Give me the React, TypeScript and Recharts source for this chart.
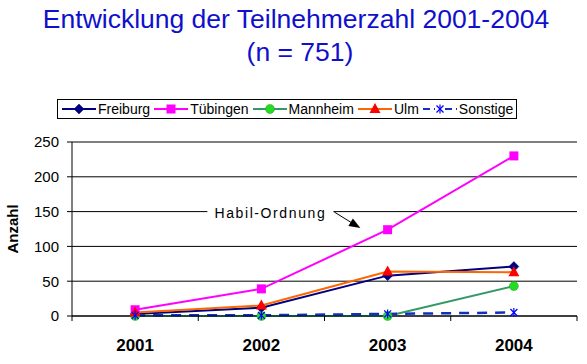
import React from 'react';
import {
  LineChart, Line, XAxis, YAxis, CartesianGrid, Legend, ReferenceLine, ReferenceDot,
} from 'recharts';

const YEARS = ['2001', '2002', '2003', '2004'];
const FREIBURG = [3, 12, 58, 71];
const TUEBINGEN = [9, 39, 124, 230];
const MANNHEIM = [0, 0, 0, 43];
const ULM = [5, 15, 64, 63];
const SONSTIGE = [1, 1, 3, 5];
const Y_TICKS = [0, 50, 100, 150, 200, 250];
const TITLE_1 = 'Entwicklung der Teilnehmerzahl 2001-2004';
const TITLE_2 = '(n = 751)';
const ANNOTATION = 'Habil-Ordnung';

const data = YEARS.map((year, i) => ({
  year,
  Freiburg: FREIBURG[i],
  'Tübingen': TUEBINGEN[i],
  Mannheim: MANNHEIM[i],
  Ulm: ULM[i],
  Sonstige: SONSTIGE[i],
}));

type MarkerType = 'diamond' | 'square' | 'circle' | 'triangle' | 'asterisk';
const SERIES: { key: string; color: string; marker: MarkerType; markerColor: string; dash?: string; width: number }[] = [
  { key: 'Freiburg', color: '#000080', marker: 'diamond', markerColor: '#000080', width: 2 },
  { key: 'Tübingen', color: '#FF00FF', marker: 'square', markerColor: '#FF00FF', width: 2 },
  { key: 'Mannheim', color: '#339966', marker: 'circle', markerColor: '#22DD22', width: 2 },
  { key: 'Ulm', color: '#FF6600', marker: 'triangle', markerColor: '#FF0000', width: 2 },
  { key: 'Sonstige', color: '#1030C0', marker: 'asterisk', markerColor: '#0000FF', dash: '10 8', width: 2.5 },
];

const FONT = '"Liberation Sans", Arial, sans-serif';

function Marker({ type, cx, cy, color }: { type: MarkerType; cx: number; cy: number; color: string }) {
  switch (type) {
    case 'diamond':
      return <polygon points={`${cx},${cy - 5} ${cx + 5},${cy} ${cx},${cy + 5} ${cx - 5},${cy}`} fill={color} stroke={color} strokeWidth={0.5} />;
    case 'square':
      return <rect x={cx - 4.5} y={cy - 4.5} width={9} height={9} fill={color} />;
    case 'circle':
      return <circle cx={cx} cy={cy} r={4.5} fill={color} stroke="#2a9a2a" strokeWidth={0.5} />;
    case 'triangle':
      return <polygon points={`${cx},${cy - 6} ${cx + 5.5},${cy + 4} ${cx - 5.5},${cy + 4}`} fill={color} />;
    case 'asterisk':
      return (
        <g stroke={color} strokeWidth={1.2}>
          <line x1={cx - 3.5} y1={cy - 3.5} x2={cx + 3.5} y2={cy + 3.5} />
          <line x1={cx - 3.5} y1={cy + 3.5} x2={cx + 3.5} y2={cy - 3.5} />
          <line x1={cx} y1={cy - 4.5} x2={cx} y2={cy + 4.5} />
        </g>
      );
  }
  return null;
}

const makeDot = (s: typeof SERIES[number]) => (props: any) => {
  const { cx, cy, index } = props;
  if (cx == null || cy == null) return <g key={`${s.key}-${index}`} />;
  return (
    <g key={`${s.key}-${index}`}>
      <Marker type={s.marker} cx={cx} cy={cy} color={s.markerColor} />
    </g>
  );
};

const LegendContent = () => (
  <div style={{ display: 'flex', alignItems: 'center', height: 18, paddingLeft: 4, fontFamily: FONT, fontSize: 14, color: '#000', whiteSpace: 'nowrap' }}>
    {SERIES.map((s) => (
      <div key={s.key} style={{ display: 'flex', alignItems: 'center', marginRight: 4 }}>
        <svg width={34} height={14} style={{ display: 'block' }}>
          <line x1={0} y1={7} x2={34} y2={7} stroke={s.color} strokeWidth={2} strokeDasharray={s.dash ? '7 4' : undefined} />
          {s.dash && <rect x={12} y={2} width={10} height={10} fill="#fff" />}
          <Marker type={s.marker} cx={17} cy={7} color={s.markerColor} />
        </svg>
        <span style={{ marginLeft: 2 }}>{s.key}</span>
      </div>
    ))}
  </div>
);

const XTick = (props: any) => {
  const { x, y, payload, index, visibleTicksCount, width } = props;
  const axisY = y - 5;
  const half = width / visibleTicksCount / 2;
  return (
    <g>
      <line x1={x - half} x2={x - half} y1={axisY} y2={axisY + 5} stroke="#000" />
      {index === visibleTicksCount - 1 && (
        <line x1={x + half} x2={x + half} y1={axisY} y2={axisY + 5} stroke="#000" />
      )}
      <text x={x} y={axisY + 35} textAnchor="middle" fontFamily={FONT} fontSize={17} fontWeight="bold" fill="#000">
        {payload.value}
      </text>
    </g>
  );
};

const AnnotationShape = (props: any) => {
  const { cx, cy } = props;
  if (cx == null || cy == null) return <g />;
  return (
    <g>
      <rect x={cx - 54} y={cy - 9} width={126} height={17} fill="#fff" />
      <text x={cx + 9} y={cy + 6} textAnchor="middle" fontFamily={FONT} fontSize={14} letterSpacing={1.6} fill="#000">
        {ANNOTATION}
      </text>
      <line x1={cx + 73} y1={cy + 0.5} x2={cx + 90} y2={cy + 11} stroke="#000" strokeWidth={1} />
      <polygon points={`${cx + 99},${cy + 16.4} ${cx + 87},${cy + 14.5} ${cx + 91.5},${cy + 6.9}`} fill="#000" />
    </g>
  );
};

const YLabel = (props: any) => {
  const vb = props.viewBox || {};
  const x = vb.x;
  const y = vb.y + vb.height / 2;
  return (
    <text x={x} y={y} transform={`rotate(-90 ${x} ${y})`} textAnchor="middle" dominantBaseline="central" fontFamily={FONT} fontSize={15} fontWeight="bold" fill="#000">
      Anzahl
    </text>
  );
};

export default function App() {
  return (
    <div style={{ position: 'absolute', left: 0, top: 0, width: 587, height: 364, background: '#fff' }}>
      <svg width={587} height={80} style={{ position: 'absolute', left: 0, top: 0 }}>
        <text x={296} y={28} textAnchor="middle" fontFamily={FONT} fontSize={26.5} fill="#1010CC">{TITLE_1}</text>
        <text x={300} y={61} textAnchor="middle" fontFamily={FONT} fontSize={26.5} fill="#1010CC">{TITLE_2}</text>
      </svg>
      <LineChart width={587} height={364} data={data} margin={{ top: 142, right: 10, bottom: 18, left: 12 }}>
        <CartesianGrid vertical={false} stroke="#000" strokeWidth={1} />
        <ReferenceLine y={250} stroke="#808080" strokeWidth={1} />
        <XAxis
          dataKey="year"
          scale="band"
          height={30}
          axisLine={{ stroke: '#000' }}
          tickLine={false}
          tickSize={5}
          tickMargin={0}
          interval={0}
          tick={<XTick />}
        />
        <YAxis
          domain={[0, 250]}
          ticks={Y_TICKS}
          width={60}
          axisLine={{ stroke: '#000' }}
          tickLine={{ stroke: '#000' }}
          tickSize={5}
          tickMargin={8}
          tick={{ fontFamily: FONT, fontSize: 15, fill: '#000' }}
          label={<YLabel />}
        />
        <YAxis yAxisId="right" orientation="right" width={0} domain={[0, 250]} tick={false} tickLine={false} axisLine={{ stroke: '#808080' }} />
        {SERIES.map((s) => (
          <Line
            key={s.key}
            dataKey={s.key}
            stroke={s.color}
            strokeWidth={s.width}
            strokeDasharray={s.dash}
            dot={makeDot(s)}
            activeDot={false}
            isAnimationActive={false}
          />
        ))}
        <ReferenceDot x="2002" y={150} r={0} shape={<AnnotationShape />} ifOverflow="visible" />
        <Legend
          layout="horizontal"
          align="center"
          verticalAlign="middle"
          content={() => <LegendContent />}
          wrapperStyle={{ position: 'absolute', top: 99, left: 57, width: 460, height: 20, border: '1px solid #000', boxSizing: 'border-box', background: '#fff' }}
        />
      </LineChart>
    </div>
  );
}
